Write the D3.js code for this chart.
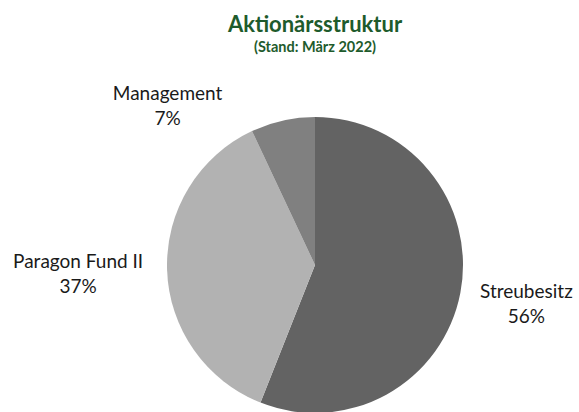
<!DOCTYPE html>
<html>
<head>
<meta charset="utf-8">
<script src="https://cdn.jsdelivr.net/npm/d3@7"></script>
<style>
  body { margin: 0; background: #fff; }
  svg { display: block; font-family: Lato, "Open Sans", sans-serif; }
</style>
</head>
<body>
<div id="chart_div"></div>
<script>
// data
var categories = ['Streubesitz', 'Paragon Fund II', 'Management'];
var shares     = [56, 37, 7];
var colors     = ['#636363', '#b2b2b2', '#808080'];

var titleText    = 'Aktionärsstruktur';
var subtitleText = '(Stand: März 2022)';

function makePie() {
  const width = 579, height = 412;
  const cx = 315, cy = 265, radius = 148;

  var svg = d3.select('#chart_div').append('svg')
      .attr('width', width)
      .attr('height', height);

  svg.append('text')
    .attr('x', 315).attr('y', 32)
    .attr('text-anchor', 'middle')
    .style('font-size', '22px')
    .style('font-weight', 'bold')
    .attr('fill', '#1e5b2c')
    .text(titleText);

  svg.append('text')
    .attr('x', 315).attr('y', 52)
    .attr('text-anchor', 'middle')
    .style('font-size', '14.5px')
    .style('font-weight', 'bold')
    .attr('fill', '#1e5b2c')
    .text(subtitleText);

  var data = categories.map(function (c, i) {
    return { name: c, value: shares[i], color: colors[i] };
  });

  var pie = d3.pie()
      .sort(null)
      .value(function (d) { return d.value; });

  var arc = d3.arc().innerRadius(0).outerRadius(radius);

  var g = svg.append('g')
      .attr('transform', `translate(${cx}, ${cy})`);

  var arcs = pie(data);

  g.selectAll('path')
    .data(arcs)
    .enter()
    .append('path')
    .attr('d', arc)
    .attr('fill', function (d) { return d.data.color; });

  // label layout: radius from centre plus a small nudge, like Excel puts them
  var labelLayout = {
    'Streubesitz':     { r: 205, dx: 10,   dy: -5 },
    'Paragon Fund II': { r: 237, dx: 0,    dy: -4 },
    'Management':      { r: 190, dx: -106, dy: 20 }
  };

  var labels = g.selectAll('g.label')
    .data(arcs)
    .enter()
    .append('g')
    .attr('class', 'label')
    .attr('transform', function (d) {
      var lay = labelLayout[d.data.name];
      var c = d3.arc().innerRadius(lay.r).outerRadius(lay.r).centroid(d);
      return `translate(${c[0] + lay.dx}, ${c[1] + lay.dy})`;
    });

  labels.append('text')
    .attr('text-anchor', 'middle')
    .attr('y', 0)
    .style('font-size', '19px')
    .attr('fill', '#1a1a1a')
    .text(function (d) { return d.data.name; });

  labels.append('text')
    .attr('text-anchor', 'middle')
    .attr('y', 25)
    .style('font-size', '19px')
    .attr('fill', '#1a1a1a')
    .text(function (d) { return d.data.value + '%'; });
}

makePie();
</script>
</body>
</html>
